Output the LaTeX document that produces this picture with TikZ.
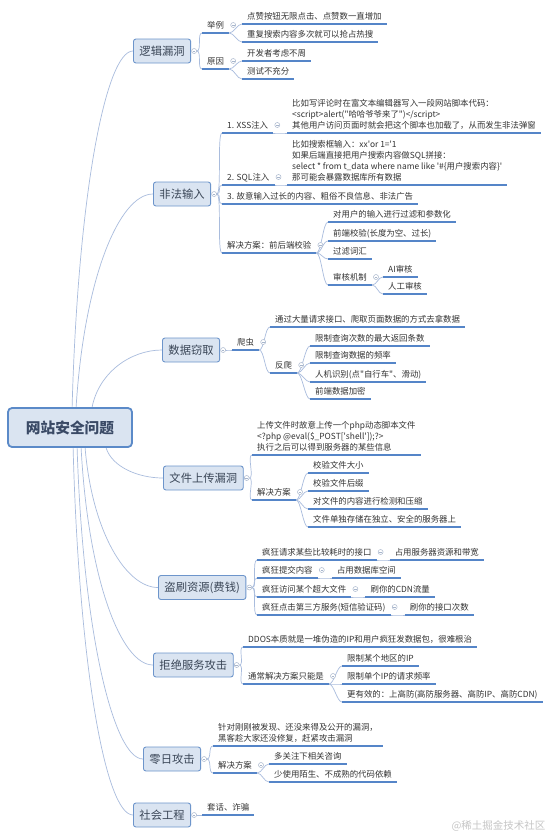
\documentclass[tikz,border=0pt]{standalone}
\usepackage{fontspec}
\setmainfont{Noto Sans CJK SC}
\usetikzlibrary{calc}
\definecolor{topicfill}{HTML}{DAE4F1}
\definecolor{topicdraw}{HTML}{6D95CB}
\definecolor{rootdraw}{HTML}{5B8AC8}
\definecolor{topictext}{HTML}{3A4657}
\definecolor{roottext}{HTML}{3A4A66}
\definecolor{ulc}{HTML}{5585C8}
\definecolor{connc}{HTML}{A9BCDD}
\definecolor{leaftext}{HTML}{333333}
\definecolor{mkc}{HTML}{A8B6CC}
\newcommand\lastfix{\rule[-1.5pt]{0pt}{1pt}}
\pgfdeclarelayer{bg}
\pgfsetlayers{bg,main}
\begin{document}
\begin{tikzpicture}[x=1pt,y=-1pt,
 root/.style={draw=rootdraw, line width=1.8pt, fill=topicfill, rounded corners=4pt, minimum width=124pt, minimum height=39pt, font=\fontsize{14.7}{17}\selectfont\bfseries, text=roottext},
 topic/.style={draw=topicdraw, line width=0.9pt, fill=topicfill, rounded corners=2.5pt, minimum height=24pt, inner xsep=6pt, font=\fontsize{11.3}{13}\selectfont, text=topictext, anchor=west},
 lbl/.style={anchor=south west, inner xsep=5pt, inner ysep=3.3pt, text height=6.8pt, text depth=1.5pt, font=\fontsize{8.4}{11}\selectfont, text=leaftext},
 mlbl/.style={anchor=south west, inner xsep=5pt, inner ysep=3.3pt, align=left, font=\fontsize{8.4}{11}\selectfont, text=leaftext},
 ul/.style={draw=ulc, line width=1.3pt},
 conn/.style={draw=connc, line width=0.7pt},
 mk/.style={circle, draw=mkc, fill=white, line width=0.5pt, minimum size=5pt, inner sep=0pt, path picture={\draw[mkc, line width=0.5pt] ([xshift=-1.3pt]path picture bounding box.center) -- ([xshift=1.3pt]path picture bounding box.center);}},
]
\newcommand\lmk[1]{\node[mk] (#1m) at ([xshift=4pt,yshift=8pt]#1.south east) {};}
\newcommand\tmk[1]{\node[mk] (#1m) at ([xshift=3pt]#1.east) {};}
\newcommand\cn[2]{\draw[conn] (#1) .. controls +(5,0) and +(-5,0) .. (#2);}
\useasboundingbox (0,0) rectangle (553,836);
\begin{pgfonlayer}{bg}
\fill[white] (0,0) rectangle (553,836);
\end{pgfonlayer}

% root and topics
\node[root] (root) at (70,427.5) {网站安全问题};
\node[topic] (t1) at (133,51) {逻辑漏洞};
\node[topic] (t2) at (153,194) {非法输入};
\node[topic] (t3) at (162,350) {数据窃取};
\node[topic] (t4) at (163,478) {文件上传漏洞};
\node[topic] (t5) at (158,587.5) {盗刷资源(费钱)};
\node[topic] (t6) at (153,665) {拒绝服务攻击};
\node[topic] (t7) at (143,759) {零日攻击};
\node[topic] (t8) at (133,815) {社会工程};

% branch 1
\node[lbl] (a1) at (202,33) {举例};
\node[lbl] (a2) at (202,69) {原因};
\node[lbl] (a11) at (242,24) {点赞按钮无限点击、点赞数一直增加};
\node[lbl] (a12) at (242,42) {重复搜索内容多次就可以抢占热搜};
\node[lbl] (a21) at (242,61) {开发者考虑不周};
\node[lbl] (a22) at (242,79) {测试不充分};

% branch 2
\node[lbl] (b1) at (222,133) {1. XSS注入};
\node[mlbl] (b11) at (287,133) {比如写评论时在富文本编辑器写入一段网站脚本代码：\\<script>alert(\textquotedbl 哈哈爷爷来了\textquotedbl)</script>\\其他用户访问页面时就会把这个脚本也加载了，从而发生非法弹窗\lastfix};
\node[lbl] (b2) at (222,185) {2. SQL注入};
\node[mlbl] (b21) at (287,185) {比如搜索框输入：xx\textquotesingle or 1=\textquotesingle 1\\如果后端直接把用户搜索内容做SQL拼接：\\select * from t\_data where name like \textquotesingle\#\{用户搜索内容\}\textquotesingle\\那可能会暴露数据库所有数据\lastfix};
\node[lbl] (b3) at (222,204) {3. 故意输入过长的内容、粗俗不良信息、非法广告};
\node[lbl] (b4) at (222,253) {解决方案：前后端校验};
\node[lbl] (b41) at (328,222) {对用户的输入进行过滤和参数化};
\node[lbl] (b42) at (328,241) {前端校验(长度为空、过长)};
\node[lbl] (b43) at (328,259) {过滤词汇};
\node[lbl] (b44) at (328,285) {审核机制};
\node[lbl] (b441) at (383,277) {AI审核};
\node[lbl] (b442) at (383,294) {人工审核};

% branch 3
\node[lbl] (c1) at (232,350) {爬虫};
\node[lbl] (c11) at (270,327) {通过大量请求接口、爬取页面数据的方式去拿数据};
\node[lbl] (c12) at (270,373) {反爬};
\node[lbl] (c121) at (310,346) {限制查询次数的最大返回条数};
\node[lbl] (c122) at (310,363) {限制查询数据的频率};
\node[lbl] (c123) at (310,382) {人机识别(点\textquotedbl 自行车\textquotedbl、滑动)};
\node[lbl] (c124) at (310,399) {前端数据加密};

% branch 4
\node[mlbl] (d1) at (252,455) {上传文件时故意上传一个php动态脚本文件\\<?php @eval(\$\_POST[\textquotesingle shell\textquotesingle]);?>\\执行之后可以得到服务器的某些信息\lastfix};
\node[lbl] (d2) at (252,500) {解决方案};
\node[lbl] (d21) at (308,473) {校验文件大小};
\node[lbl] (d22) at (308,491) {校验文件后缀};
\node[lbl] (d23) at (308,509) {对文件的内容进行检测和压缩};
\node[lbl] (d24) at (308,527) {文件单独存储在独立、安全的服务器上};

% branch 5
\node[lbl] (e1) at (257,560) {疯狂请求某些比较耗时的接口};
\node[lbl] (e2) at (257,578) {疯狂提交内容};
\node[lbl] (e3) at (257,597) {疯狂访问某个超大文件};
\node[lbl] (e4) at (257,615) {疯狂点击第三方服务(短信验证码)};
\node[lbl] (e11) at ([xshift=13pt]e1.south east) {占用服务器资源和带宽};
\node[lbl] (e21) at ([xshift=14pt]e2.south east) {占用数据库空间};
\node[lbl] (e31) at ([xshift=14pt]e3.south east) {刷你的CDN流量};
\node[lbl] (e41) at ([xshift=14pt]e4.south east) {刷你的接口次数};

% branch 6
\node[lbl] (f1) at (243,647) {DDOS本质就是一堆伪造的IP和用户疯狂发数据包，很难根治};
\node[lbl] (f2) at (243,684) {通常解决方案只能是};
\node[lbl] (f21) at (342,666) {限制某个地区的IP};
\node[lbl] (f22) at (342,684) {限制单个IP的请求频率};
\node[lbl] (f23) at (342,702) {更有效的：上高防(高防服务器、高防IP、高防CDN)};

% branch 7
\node[mlbl] (g1) at (213,746) {针对刚刚被发现、还没来得及公开的漏洞，\\黑客趁大家还没修复，赶紧攻击漏洞\lastfix};
\node[lbl] (g2) at (213,773) {解决方案};
\node[lbl] (g21) at (269,764) {多关注下相关咨询};
\node[lbl] (g22) at (269,782) {少使用陌生、不成熟的代码依赖};

% branch 8
\node[lbl] (h1) at (202,815) {套话、诈骗};

% watermark
\node[anchor=east, text=gray!45, font=\fontsize{10.5}{12}\selectfont] (wm) at (549,826) {@稀土掘金技术社区};

% markers
\foreach \t in {t1,t2,t3,t4,t5,t6,t7,t8} {\tmk{\t}}
\foreach \l in {a1,a2,b1,b2,b4,b44,c1,c12,d2,e1,e2,e3,e4,f2,g2} {\lmk{\l}}

\begin{pgfonlayer}{bg}
% root connectors
\draw[conn] ([xshift=65pt]root.north west) .. controls +(6,-214) and +(-27,0) .. (t1.west);
\draw[conn] ([xshift=69pt]root.north west) .. controls +(8,-128) and +(-34,0) .. (t2.west);
\draw[conn] ([xshift=85pt]root.north west) .. controls +(7,-35) and +(-31,0) .. (t3.west);
\draw[conn] ([xshift=99pt]root.south west) .. controls +(6,19) and +(-25,0) .. (t4.west);
\draw[conn] ([xshift=78pt]root.south west) .. controls +(7,84) and +(-32,0) .. (t5.west);
\draw[conn] ([xshift=74pt]root.south west) .. controls +(7,131) and +(-32,0) .. (t6.west);
\draw[conn] ([xshift=70pt]root.south west) .. controls +(6,187) and +(-29,0) .. (t7.west);
\draw[conn] ([xshift=66pt]root.south west) .. controls +(6,221) and +(-27,0) .. (t8.west);

% branch connectors
\cn{t1m.east}{a1.south west} \cn{t1m.east}{a2.south west}
\cn{a1.south east}{a11.south west} \cn{a1.south east}{a12.south west}
\cn{a2.south east}{a21.south west} \cn{a2.south east}{a22.south west}

\foreach \c in {b1,b2,b3,b4} {\cn{t2m.east}{\c.south west}}
\cn{b1.south east}{b11.south west}
\cn{b2.south east}{b21.south west}
\foreach \c in {b41,b42,b43,b44} {\cn{b4.south east}{\c.south west}}
\cn{b44.south east}{b441.south west} \cn{b44.south east}{b442.south west}

\cn{t3m.east}{c1.south west}
\cn{c1.south east}{c11.south west} \cn{c1.south east}{c12.south west}
\foreach \c in {c121,c122,c123,c124} {\cn{c12.south east}{\c.south west}}

\cn{t4m.east}{d1.south west} \cn{t4m.east}{d2.south west}
\foreach \c in {d21,d22,d23,d24} {\cn{d2.south east}{\c.south west}}

\foreach \c in {e1,e2,e3,e4} {\cn{t5m.east}{\c.south west} \cn{\c.south east}{\c1.south west}}

\cn{t6m.east}{f1.south west} \cn{t6m.east}{f2.south west}
\foreach \c in {f21,f22,f23} {\cn{f2.south east}{\c.south west}}

\cn{t7m.east}{g1.south west} \cn{t7m.east}{g2.south west}
\cn{g2.south east}{g21.south west} \cn{g2.south east}{g22.south west}

\cn{t8m.east}{h1.south west}
\end{pgfonlayer}

% underlines
\foreach \n in {a1,a2,a11,a12,a21,a22,b1,b11,b2,b21,b3,b4,b41,b42,b43,b44,b441,b442,c1,c11,c12,c121,c122,c123,c124,d1,d2,d21,d22,d23,d24,e1,e2,e3,e4,e11,e21,e31,e41,f1,f2,f21,f22,f23,g1,g2,g21,g22,h1}
  {\draw[ul] (\n.south west) -- (\n.south east);}
\end{tikzpicture}
\end{document}
